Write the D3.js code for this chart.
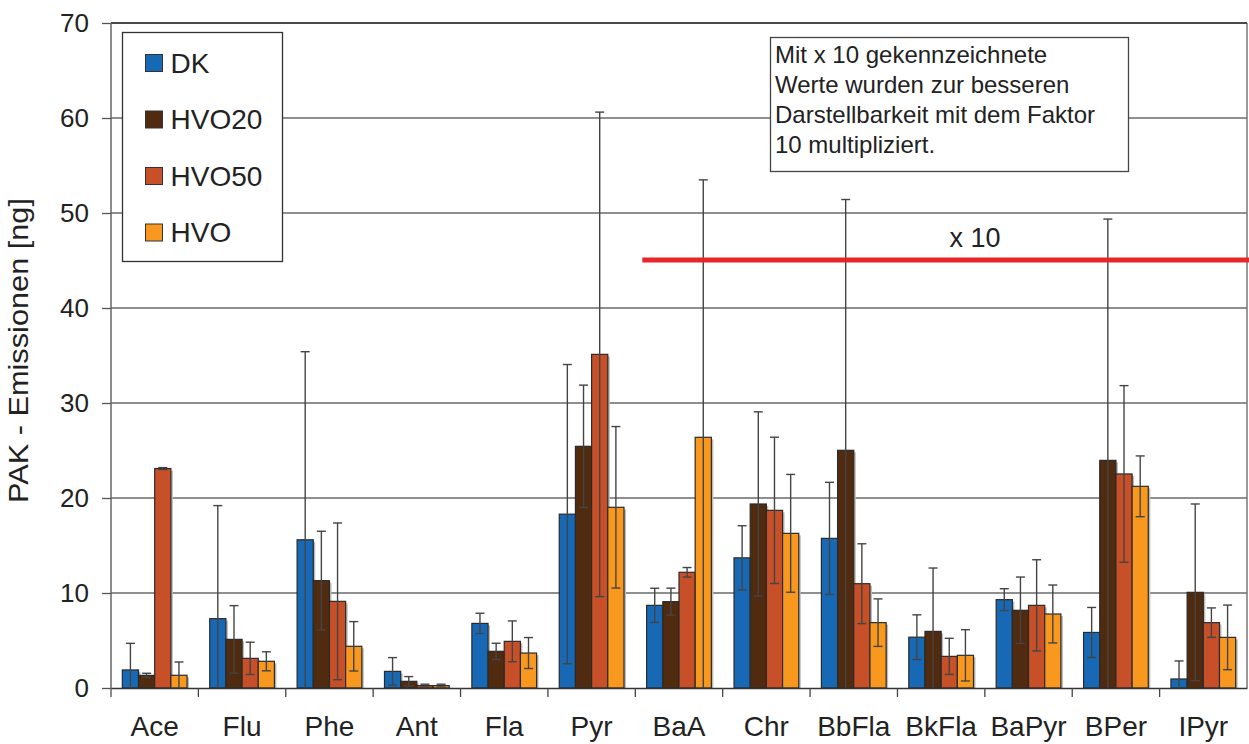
<!DOCTYPE html>
<html>
<head>
<meta charset="utf-8">
<script src="https://cdn.jsdelivr.net/npm/d3@7"></script>
<style>
  html, body { margin: 0; padding: 0; background: #fff; }
  svg { display: block; font-family: "Liberation Sans", Arial, sans-serif; }
</style>
</head>
<body>
<svg id="chart" width="1249" height="744"></svg>
<script>
const categories = ["Ace", "Flu", "Phe", "Ant", "Fla", "Pyr", "BaA", "Chr", "BbFla", "BkFla", "BaPyr", "BPer", "IPyr"];
const seriesNames = ["DK", "HVO20", "HVO50", "HVO"];
const seriesColors = ["#1769b5", "#512b0f", "#c85028", "#f8981f"];

const dkValues    = [1.9, 7.3, 15.6, 1.75, 6.8, 18.3, 8.7, 13.7, 15.75, 5.35, 9.3, 5.85, 0.95];
const dkErrors    = [2.8, 11.9, 19.8, 1.45, 1.07, 15.75, 1.8, 3.38, 5.9, 2.35, 1.15, 2.63, 1.9];
const hvo20Values = [1.33, 5.12, 11.3, 0.7, 3.86, 25.44, 9.09, 19.37, 25.02, 5.96, 8.18, 23.96, 10.07];
const hvo20Errors = [0.22, 3.55, 5.2, 0.5, 0.85, 6.44, 1.42, 9.7, 26.4, 6.67, 3.5, 25.4, 9.3];
const hvo50Values = [23.1, 3.12, 9.12, 0.25, 4.91, 35.12, 12.18, 18.7, 10.98, 3.33, 8.7, 22.53, 6.88];
const hvo50Errors = [0.1, 1.7, 8.25, 0.15, 2.15, 25.5, 0.5, 7.7, 4.2, 1.9, 4.8, 9.3, 1.55];
const hvoValues   = [1.34, 2.81, 4.39, 0.25, 3.68, 19.02, 26.39, 16.28, 6.88, 3.44, 7.79, 21.23, 5.33];
const hvoErrors   = [1.4, 1.0, 2.6, 0.15, 1.63, 8.5, 27.1, 6.2, 2.5, 2.7, 3.05, 3.2, 3.4];

const yTicks = [0, 10, 20, 30, 40, 50, 60, 70];
const noteLines = ["Mit x 10 gekennzeichnete", "Werte wurden zur besseren", "Darstellbarkeit mit dem Faktor", "10 multipliziert."];

const valueSets = [dkValues, hvo20Values, hvo50Values, hvoValues];
const errorSets = [dkErrors, hvo20Errors, hvo50Errors, hvoErrors];

const bars = [];
categories.forEach((cat, i) => {
  seriesNames.forEach((name, s) => {
    bars.push({ cat, name, color: seriesColors[s], value: valueSets[s][i], err: errorSets[s][i] });
  });
});

const plotLeft = 111, plotRight = 1247, plotTop = 23, plotBottom = 688;

const x = d3.scaleBand().domain(categories).range([plotLeft, plotRight]).padding(0);
const xs = d3.scaleBand().domain(seriesNames).range([0, x.bandwidth()]).paddingInner(0).paddingOuter(0.7);
const y = d3.scaleLinear().domain([0, 70]).range([plotBottom, plotTop]);

const svg = d3.select("#chart");

// gridlines
svg.append("g")
  .selectAll("line")
  .data(yTicks.filter((t) => t > 0))
  .join("line")
  .attr("x1", plotLeft).attr("x2", plotRight)
  .attr("y1", (d) => y(d)).attr("y2", (d) => y(d))
  .attr("stroke", "#6a6a6a")
  .attr("stroke-width", 1.3);

// frame
svg.append("line")
  .attr("x1", plotRight).attr("x2", plotRight)
  .attr("y1", plotTop).attr("y2", plotBottom)
  .attr("stroke", "#777").attr("stroke-width", 1.5);
svg.append("line")
  .attr("x1", plotLeft).attr("x2", plotRight)
  .attr("y1", plotTop).attr("y2", plotTop)
  .attr("stroke", "#333").attr("stroke-width", 1.3);

// bars
const barG = svg.append("g");
barG.selectAll("rect.shadow")
  .data(bars)
  .join("rect")
  .attr("class", "shadow")
  .attr("x", (d) => x(d.cat) + xs(d.name) + 2)
  .attr("y", (d) => y(d.value) + 2)
  .attr("width", xs.bandwidth())
  .attr("height", (d) => Math.max(0, y(0) - y(d.value) - 2))
  .attr("fill", "#bbb");

barG.selectAll("rect.bar")
  .data(bars)
  .join("rect")
  .attr("class", "bar")
  .attr("x", (d) => x(d.cat) + xs(d.name))
  .attr("y", (d) => y(d.value))
  .attr("width", xs.bandwidth())
  .attr("height", (d) => y(0) - y(d.value))
  .attr("fill", (d) => d.color)
  .attr("stroke", "#2a2a2a")
  .attr("stroke-width", 1.2);

// error bars
const errG = svg.append("g")
  .attr("stroke", "#444")
  .attr("stroke-width", 1.4);
const cx = (d) => x(d.cat) + xs(d.name) + xs.bandwidth() / 2;
const cap = 4.5;

errG.selectAll("line.stem")
  .data(bars)
  .join("line")
  .attr("class", "stem")
  .attr("x1", cx).attr("x2", cx)
  .attr("y1", (d) => y(d.value + d.err))
  .attr("y2", (d) => y(Math.max(0, d.value - d.err)));

errG.selectAll("line.capTop")
  .data(bars)
  .join("line")
  .attr("class", "capTop")
  .attr("x1", (d) => cx(d) - cap).attr("x2", (d) => cx(d) + cap)
  .attr("y1", (d) => y(d.value + d.err))
  .attr("y2", (d) => y(d.value + d.err));

errG.selectAll("line.capBottom")
  .data(bars.filter((d) => d.value - d.err > 0))
  .join("line")
  .attr("class", "capBottom")
  .attr("x1", (d) => cx(d) - cap).attr("x2", (d) => cx(d) + cap)
  .attr("y1", (d) => y(d.value - d.err))
  .attr("y2", (d) => y(d.value - d.err));

// y axis
const yAxis = svg.append("g")
  .attr("transform", `translate(${plotLeft},0)`)
  .call(d3.axisLeft(y).tickValues(yTicks).tickSize(9).tickPadding(13));
yAxis.select(".domain").attr("stroke", "#666").attr("stroke-width", 1.5)
  .attr("d", `M0,${plotTop}V${plotBottom + 9}`);
yAxis.selectAll(".tick line").attr("stroke", "#555").attr("stroke-width", 1.3);
yAxis.selectAll(".tick text")
  .attr("font-size", 26)
  .attr("font-family", "Liberation Sans, Arial, sans-serif")
  .attr("fill", "#222");

// x axis
const xAxis = svg.append("g")
  .attr("transform", `translate(0,${plotBottom})`)
  .call(d3.axisBottom(x).tickSize(0).tickPadding(28));
xAxis.select(".domain").attr("stroke", "#333").attr("stroke-width", 1.5);
xAxis.selectAll(".tick text")
  .attr("font-size", 28)
  .attr("font-family", "Liberation Sans, Arial, sans-serif")
  .attr("fill", "#222");
xAxis.append("g")
  .selectAll("line")
  .data(categories.slice(1))
  .join("line")
  .attr("x1", (d) => x(d)).attr("x2", (d) => x(d))
  .attr("y1", 0).attr("y2", 9)
  .attr("stroke", "#444").attr("stroke-width", 1.3);

// y label
svg.append("text")
  .attr("transform", `translate(28,${(plotTop + plotBottom) / 2 - 5}) rotate(-90)`)
  .attr("text-anchor", "middle")
  .attr("font-size", 27)
  .attr("fill", "#222")
  .attr("textLength", 305)
  .attr("lengthAdjust", "spacingAndGlyphs")
  .text("PAK - Emissionen [ng]");

// legend
const legend = svg.append("g");
legend.append("rect")
  .attr("x", 122.5).attr("y", 32.5)
  .attr("width", 160).attr("height", 229)
  .attr("fill", "#fff").attr("stroke", "#333").attr("stroke-width", 1.3);
const rowY = d3.scalePoint().domain(seriesNames).range([63, 232.5]);
const item = legend.selectAll("g.item")
  .data(seriesNames)
  .join("g")
  .attr("class", "item")
  .attr("transform", (d) => `translate(145.5,${rowY(d)})`);
item.append("rect")
  .attr("x", 0).attr("y", -8.5)
  .attr("width", 17).attr("height", 17)
  .attr("fill", (d, i) => seriesColors[i])
  .attr("stroke", "#333").attr("stroke-width", 1);
item.append("text")
  .attr("x", 25).attr("y", 9.5)
  .attr("font-size", 28)
  .attr("fill", "#222")
  .text((d) => d);

// note box
const note = svg.append("g");
note.append("rect")
  .attr("x", 770.5).attr("y", 37.5)
  .attr("width", 358).attr("height", 134)
  .attr("fill", "#fff").attr("stroke", "#444").attr("stroke-width", 1.3);
note.selectAll("text")
  .data(noteLines)
  .join("text")
  .attr("x", 775)
  .attr("y", (d, i) => 62.5 + i * 30.3)
  .attr("font-size", 24)
  .attr("fill", "#222")
  .text((d) => d);

// x 10 marker
svg.append("line")
  .attr("x1", x("BaA") + 7).attr("x2", 1249)
  .attr("y1", 260).attr("y2", 260)
  .attr("stroke", "#e8262a").attr("stroke-width", 5);
svg.append("text")
  .attr("x", 975).attr("y", 247)
  .attr("text-anchor", "middle")
  .attr("font-size", 27)
  .attr("fill", "#222")
  .text("x 10");
</script>
</body>
</html>
